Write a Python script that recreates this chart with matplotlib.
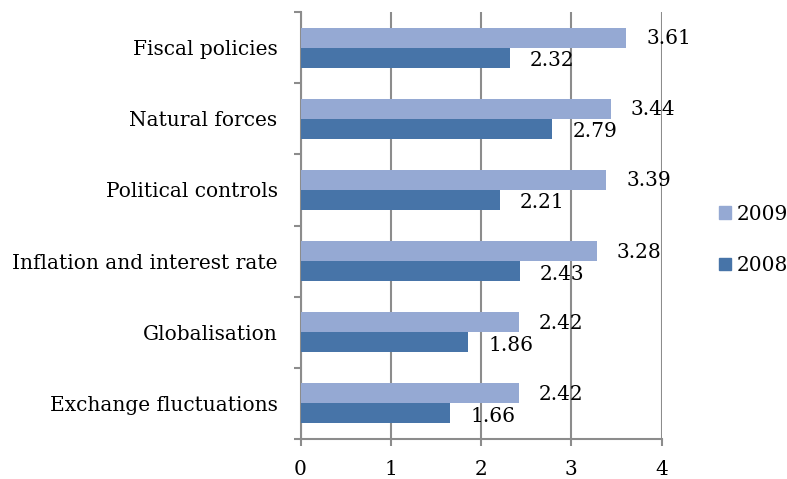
import matplotlib
matplotlib.use("Agg")
import matplotlib.pyplot as plt
import numpy as np
from matplotlib.transforms import offset_copy
from matplotlib.patches import Patch

categories = ["Fiscal policies", "Natural forces", "Political controls",
              "Inflation and interest rate", "Globalisation", "Exchange fluctuations"]
values_2009 = [3.61, 3.44, 3.39, 3.28, 2.42, 2.42]
values_2008 = [2.32, 2.79, 2.21, 2.43, 1.86, 1.66]
x_ticks = [0, 1, 2, 3, 4]

c2009 = "#95A9D3"
c2008 = "#4774A8"
grid_c = "#8C8C8C"

plt.rcParams['font.family'] = ['DejaVu Serif']
fs = 14.5

fig = plt.figure(figsize=(7.87, 4.79), dpi=100)
W, H = 787, 479
ax = fig.add_axes([300.5 / W, 1 - 439 / H, (661.5 - 300.5) / W, (439 - 12) / H])

n = len(categories)
pos = np.arange(n)[::-1].astype(float)  # top category at highest y
bh = 0.28
b09 = ax.barh(pos + bh / 2, values_2009, height=bh, color=c2009, zorder=3)
b08 = ax.barh(pos - bh / 2, values_2008, height=bh, color=c2008, zorder=3)

ax.set_xlim(0, 4)
ax.set_ylim(-0.5, n - 0.5)
ax.set_xticks(x_ticks)
ax.set_xticklabels([str(t) for t in x_ticks], fontsize=fs)
ax.set_yticks(pos)
ax.set_yticklabels(categories, fontsize=fs)
ax.tick_params(axis='y', length=0, pad=16.5)
ax.tick_params(axis='x', length=5, width=1.5, color=grid_c, pad=10)

# minor ticks on y at category boundaries
ax.set_yticks(np.arange(-0.5, n, 1.0), minor=True)
ax.tick_params(axis='y', which='minor', length=5, width=1.5, color=grid_c)

ax.grid(axis='x', color=grid_c, linewidth=1.5, zorder=0)
for s in ['top', 'right']:
    ax.spines[s].set_visible(False)
for s in ['left', 'bottom']:
    ax.spines[s].set_color(grid_c)
    ax.spines[s].set_linewidth(1.5)

for bars, vals, dy in [(b09, values_2009, 1), (b08, values_2008, 3)]:
    for rect, v in zip(bars, vals):
        tr = offset_copy(ax.transData, fig=fig, x=20, y=-dy, units='dots')
        ax.text(v, rect.get_y() + rect.get_height() / 2, f"{v:.2f}", transform=tr,
                ha='left', va='center', fontsize=fs, zorder=4)

handles = [Patch(color=c2009, label="2009"), Patch(color=c2008, label="2008")]
fig.legend(handles=handles, loc='center left', bbox_to_anchor=(719 / W, 1 - 240 / H),
           frameon=False, fontsize=fs, handlelength=0.6, handleheight=0.6,
           handletextpad=0.3, labelspacing=1.6, borderpad=0, borderaxespad=0)

fig.savefig("out.png", dpi=100)
